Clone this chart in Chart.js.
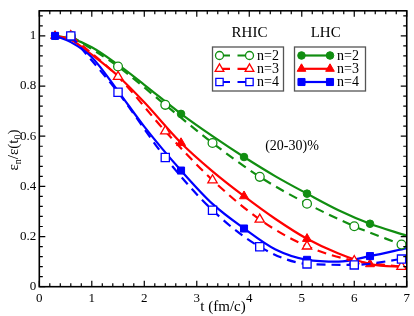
<!DOCTYPE html>
<html><head><meta charset="utf-8">
<script src="https://cdn.jsdelivr.net/npm/chart.js@4/dist/chart.umd.min.js"></script>
<style>html,body{margin:0;padding:0;background:#fff}</style>
</head><body>
<canvas id="c" width="414" height="316" style="width:414px;height:316px;display:block"></canvas>
<script>
// ---- data ----
const tLHC   = [0.3, 0.6, 1.0, 1.5, 2.0, 2.7, 3.3, 3.9, 4.5, 5.1, 5.7, 6.3, 7.0];
const markLHC = [1, 0, 0, 0, 0, 1, 0, 1, 0, 1, 0, 1, 0];
const lhcN2  = [1.0, 0.99, 0.955, 0.885, 0.805, 0.689, 0.60, 0.517, 0.44, 0.371, 0.305, 0.251, 0.203];
const lhcN3  = [1.0, 0.985, 0.925, 0.84, 0.735, 0.573, 0.46, 0.361, 0.27, 0.191, 0.132, 0.090, 0.078];
const lhcN4  = [1.0, 0.975, 0.915, 0.78, 0.638, 0.463, 0.33, 0.232, 0.148, 0.107, 0.100, 0.122, 0.154];

const tRHIC  = [0.6, 1.5, 2.4, 3.3, 4.2, 5.1, 6.0, 6.9];
const rhicN2 = [1.0, 0.878, 0.725, 0.573, 0.438, 0.331, 0.241, 0.168];
const rhicN3 = [1.0, 0.837, 0.62, 0.425, 0.268, 0.161, 0.103, 0.080];
const rhicN4 = [1.0, 0.775, 0.515, 0.305, 0.159, 0.091, 0.087, 0.110];

const xTicks = [0, 1, 2, 3, 4, 5, 6, 7];
const yTicks = [0, 0.2, 0.4, 0.6, 0.8, 1];
const seriesLabels = ['n=2', 'n=3', 'n=4'];

const GREEN = '#118e11', RED = '#ff0000', BLUE = '#0000ff';
const colors = [GREEN, RED, BLUE];
const styles = ['circle', 'triangle', 'rect'];
const openR = [4.4, 5.4, 5.8];
const fillR = [3.8, 5.2, 5.0];
const SERIF = '"Liberation Serif","DejaVu Serif",serif';

function pts(t, v) { return t.map((x, i) => ({x, y: v[i]})); }

const rhic = [rhicN2, rhicN3, rhicN4];
const lhc = [lhcN2, lhcN3, lhcN4];

const datasets = [];
for (let k = 2; k >= 0; k--) {
  datasets.push({
    label: 'RHIC ' + seriesLabels[k],
    data: pts(tRHIC, rhic[k]),
    borderColor: colors[k], backgroundColor: '#ffffff',
    borderWidth: 2.2, borderDash: [9, 6],
    pointStyle: styles[k], pointRadius: openR[k], pointBorderWidth: 1.3,
    pointBorderColor: colors[k], pointBackgroundColor: '#ffffff',
    cubicInterpolationMode: 'monotone', fill: false
  });
}
for (let k = 2; k >= 0; k--) {
  datasets.push({
    label: 'LHC ' + seriesLabels[k],
    data: pts(tLHC, lhc[k]),
    borderColor: colors[k], backgroundColor: colors[k],
    borderWidth: 2.2,
    pointStyle: styles[k], pointRadius: markLHC.map(m => m ? fillR[k] : 0), pointBorderWidth: 1,
    pointBorderColor: colors[k], pointBackgroundColor: colors[k],
    cubicInterpolationMode: 'monotone', fill: false
  });
}

function marker(ctx, style, r, x, y, col, filled) {
  ctx.save();
  ctx.strokeStyle = col; ctx.fillStyle = filled ? col : '#ffffff';
  ctx.lineWidth = filled ? 1 : 1.3;
  Chart.helpers.drawPoint(ctx, {pointStyle: style, radius: r, rotation: 0, borderWidth: ctx.lineWidth}, x, y);
  ctx.restore();
}

const decor = {
  id: 'decor',
  afterDraw(chart) {
    const ctx = chart.ctx, a = chart.chartArea;
    const xs = chart.scales.x, ys = chart.scales.y;
    ctx.save();
    ctx.strokeStyle = '#000'; ctx.lineWidth = 1.6;
    ctx.strokeRect(a.left, a.top, a.right - a.left, a.bottom - a.top);
    ctx.lineWidth = 1.2;
    ctx.beginPath();
    for (let i = 0; i <= 35; i++) {
      const v = i * 0.2;
      const px = xs.getPixelForValue(v);
      const L = i % 5 === 0 ? 6 : 3.5;
      ctx.moveTo(px, a.bottom); ctx.lineTo(px, a.bottom - L);
      ctx.moveTo(px, a.top); ctx.lineTo(px, a.top + L);
    }
    for (let i = 0; i <= 27; i++) {
      const v = i * 0.04;
      const py = ys.getPixelForValue(v);
      const L = i % 5 === 0 ? 6 : 3.5;
      ctx.moveTo(a.left, py); ctx.lineTo(a.left + L, py);
      ctx.moveTo(a.right, py); ctx.lineTo(a.right - L, py);
    }
    ctx.stroke();

    // y title: ε_n/ε(t_0)
    ctx.fillStyle = '#000';
    ctx.translate(14, 150);
    ctx.rotate(-Math.PI / 2);
    const parts = [['ε', 15, 0], ['n', 10, 4], ['/ε(t', 15, 0], ['0', 10, 4], [')', 15, 0]];
    let w = 0;
    parts.forEach(p => { ctx.font = p[1] + 'px ' + SERIF; w += ctx.measureText(p[0]).width; });
    let cx = -w / 2;
    ctx.textBaseline = 'middle'; ctx.textAlign = 'left';
    parts.forEach(p => { ctx.font = p[1] + 'px ' + SERIF; ctx.fillText(p[0], cx, p[2]); cx += ctx.measureText(p[0]).width; });
    ctx.setTransform(1, 0, 0, 1, 0, 0);

    ctx.font = '15px ' + SERIF; ctx.textAlign = 'center'; ctx.textBaseline = 'middle';
    ctx.fillText('RHIC', 249.5, 33.5);
    ctx.fillText('LHC', 325.7, 33.5);
    ctx.font = '14px ' + SERIF;
    ctx.fillText('(20-30)%', 292, 146);

    ctx.strokeStyle = '#555'; ctx.lineWidth = 1.3;
    ctx.strokeRect(212.5, 47, 71, 44);
    ctx.strokeRect(294.5, 47, 71, 44);
    const rows = [55.5, 68.8, 82];
    ctx.font = '14px ' + SERIF; ctx.textAlign = 'left';
    for (let k = 0; k < 3; k++) {
      const y = rows[k], c = colors[k];
      ctx.strokeStyle = c; ctx.lineWidth = 2.2; ctx.setLineDash([]);
      ctx.beginPath(); ctx.moveTo(219.5, y); ctx.lineTo(230, y); ctx.moveTo(237.5, y); ctx.lineTo(249.5, y); ctx.stroke();
      const ro = k === 0 ? 4 : (k === 1 ? 5 : 5.2);
      marker(ctx, styles[k], ro, 219.5, y, c, false);
      marker(ctx, styles[k], ro, 249.5, y, c, false);
      ctx.fillStyle = '#000'; ctx.fillText(seriesLabels[k], 257, y + 0.5);
      ctx.strokeStyle = c; ctx.lineWidth = 2.2;
      ctx.beginPath(); ctx.moveTo(301.5, y); ctx.lineTo(330, y); ctx.stroke();
      const rf = k === 0 ? 3.8 : 5;
      marker(ctx, styles[k], rf, 301.5, y, c, true);
      marker(ctx, styles[k], rf, 330, y, c, true);
      ctx.fillStyle = '#000'; ctx.fillText(seriesLabels[k], 337, y + 0.5);
    }
    ctx.restore();
  }
};

new Chart(document.getElementById('c'), {
  type: 'line',
  data: {datasets},
  options: {
    responsive: false, animation: false, devicePixelRatio: 1,
    layout: {padding: {left: 0, right: 4, top: 2, bottom: 0}},
    plugins: {legend: {display: false}, tooltip: {enabled: false}},
    scales: {
      x: {
        type: 'linear', min: 0, max: 7,
        grid: {display: false, drawTicks: false}, border: {display: false},
        afterBuildTicks: s => { s.ticks = xTicks.map(v => ({value: v})); },
        afterFit: s => { s.height = 29.3; },
        ticks: {color: '#000', font: {family: SERIF, size: 13}, padding: 4, maxRotation: 0,
                callback: v => String(Number(v))},
        title: {display: true, text: 't (fm/c)', color: '#000', font: {family: SERIF, size: 15}, padding: {top: 0, bottom: 0}}
      },
      y: {
        type: 'linear', min: 0, max: 1.1,
        grid: {display: false, drawTicks: false}, border: {display: false},
        afterBuildTicks: s => { s.ticks = yTicks.map(v => ({value: v})); },
        afterFit: s => { s.width = 39.3; },
        ticks: {color: '#000', font: {family: SERIF, size: 13}, padding: 3,
                callback: v => String(Number(Number(v).toFixed(2)))}
      }
    }
  },
  plugins: [decor]
});
</script>
</body></html>
